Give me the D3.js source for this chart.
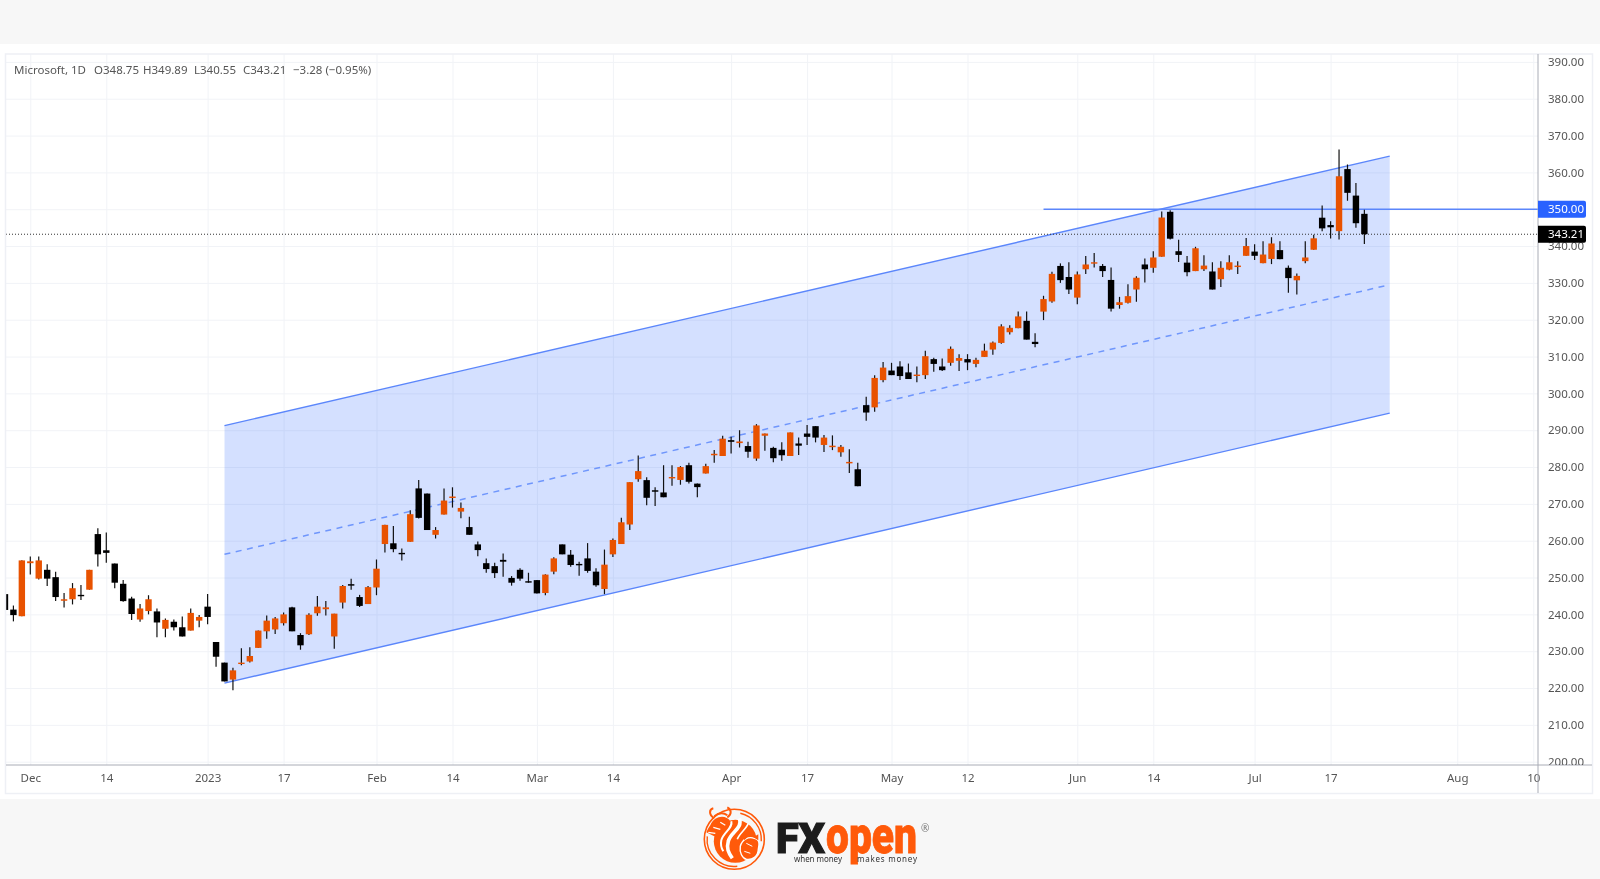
<!DOCTYPE html>
<html><head><meta charset="utf-8">
<style>
html,body{margin:0;padding:0;background:#fff;overflow:hidden}
svg{display:block;filter:blur(0.45px)}
text{font-family:"Noto Sans",sans-serif}
</style>
<script src="https://cdn.jsdelivr.net/npm/d3@7/dist/d3.min.js"></script>
</head><body>
<svg id="c" width="1600" height="879"></svg>
<script>
const opens=[245.5,241.3,239.5,253.9,249.7,252.1,250.1,243.7,244.1,245.3,246.7,261.8,257.4,253.8,248.3,244.3,238.6,240.9,240.8,236.1,238,236.5,235.6,238.3,242.1,232.5,226.9,222.3,226.6,227.2,230.9,235.4,235.9,237.6,241.9,234.4,234.6,240.3,241.4,234,243.2,248.2,244.7,242.8,247.3,
259.1,259.3,256.7,259.7,274.2,272.8,261.6,267.1,271.6,267.9,263.7,259,253.9,253.1,254.8,249.9,252.1,249,249.3,245.8,251.6,259,256.2,253.7,255.2,251.6,246.9,256.3,259.1,264.4,276.7,276.45,273.7,273.1,277.1,
276.5,280.5,275.5,278.25,283.2,283,287.3,286.5,285.7,282.3,288.5,285.2,284.7,283,286.4,289.1,291.1,286,285.4,284,281,279.4,
296.8,296.2,303.6,306.2,307.3,305.7,304.95,304.95,309.3,307.3,308.3,308.85,309.3,308,309.9,311.9,313.7,316.6,317.7,319.7,314,322.2,324.95,
334.6,331.6,326,333.7,335.35,334.6,330.8,324,324.6,328.2,335,334.1,337.1,349.3,338.6,335.5,333.2,333.7,333.1,331,333.6,334.3,337.35,338.5,335.35,336.5,338.9,334.1,330.7,335.9,339,347.7,345.7,344.05,360.9,353.7,348.75];
const highs=[245.5,242.4,254.7,255.7,255.7,253.6,251.6,245.8,248.5,248,252.1,263.4,262.25,253.8,249.3,244.8,242.8,245.2,241.6,238.9,238.6,239.4,241.6,239.8,245.5,232.5,226.9,225.5,230.8,231.1,235.6,239.7,239.3,240.5,242.1,234.9,240.3,245,243.6,240.2,248,249.7,245.3,247.7,254.9,
264.3,264,257.9,268.3,276.5,272.8,263.7,274.2,274.5,270.4,266.5,259.8,255.2,254,256.5,250.4,252.5,251.3,249.3,250.9,255.5,259,257.5,254.3,259.35,252.5,257.6,260.6,266.2,275.9,283.15,277.2,274.5,280.5,280.5,
280.25,281.2,275.5,280.9,284.6,288.5,288.2,290,286.85,291.65,289.1,285.5,286.7,289.4,288,291.4,291.1,288.7,288.6,286,284.8,281.15,
299.07,304.95,308.5,308.3,308.75,308.1,307.3,311.55,309.65,309.5,312.7,310.65,310.65,309.65,313.5,314.1,318.8,318.5,322.2,322.2,316.3,326.5,333,
335.3,335.6,333.1,337.3,338.1,335.1,334.2,326.2,329.6,331.8,336.6,338.6,349.4,349.7,341.7,337.3,339.8,337.5,335.6,335.9,337.5,335.9,342.2,340.5,341.3,342.4,341.3,334.7,332.55,341.3,343.1,351,346.75,366.2,362.15,357.15,349.89];
const lows=[241,238.1,239.5,250.8,249.5,247.7,243.6,241.9,242.7,243.9,246.7,253,254,247.1,243.4,238.5,238,240,233.8,233.8,235.6,234,235.6,236.5,237.3,225.8,221.8,219.4,226.2,226.9,230.9,233.4,234.7,237,235.4,230.4,234.4,239.6,239.7,230.7,241.6,246.7,242,242.8,245.2,
256.8,256.9,254.65,259.7,266,262.9,260.6,267.1,269,266.1,261.6,255.8,251.3,249.9,250.2,247.8,249.1,248.6,245.7,245.2,250.9,256.3,252.9,250.5,251.3,247.5,245.5,255.6,259.1,262.9,276,269.6,269.4,271.8,274.9,
275.2,275.5,271.8,278.25,281.2,283,283.7,285.3,282.5,281.7,284.4,281.3,281.7,283,283.3,286,286.7,284.1,284.6,282.8,278.4,274.8,
292.6,295,303,304.95,303.6,303.9,303.05,303.9,305.85,306.1,307.5,306.1,306.3,307.1,309.9,310.5,313.5,316,317.7,314.6,312.5,319.9,324.6,
330,327,324.2,332.4,334.2,331.6,322.2,323,324.4,324.9,330.1,332.75,337.1,341.8,335.7,331.8,333.2,333.2,328.2,328.9,333.45,332.4,337.35,336.2,335.35,335.1,336.45,327.3,326.85,335.35,339,344.05,342.05,341.8,352.3,345,340.55];
const closes=[241.2,239.8,254.65,254.4,254.65,249.7,244.7,244.1,247.1,245.1,252.1,256.3,256.7,248.6,243.6,240.1,241.6,244.1,237.8,238.5,236.5,234,240.4,239.3,239.3,228.5,221.8,224.8,226.9,228.7,235.6,238.3,238.9,240,235.4,231.6,239.9,242.1,241.9,240.2,247.7,247.8,242.3,247.4,252.4,
264.3,257.7,256.45,267.2,266.2,262.9,262.9,270.9,272,268.9,261.6,257.45,252.3,251.2,254.3,248.6,249.7,248.8,245.7,250.8,255.2,256.3,253.4,253.4,251.8,247.9,253.5,260.2,265,275.9,278.9,271.65,273.3,271.8,277.3,
280,276,274.55,280.25,283.6,287.7,286.85,286.95,284.15,291.3,289.1,282.4,283.2,289.4,285.8,288.2,288,288,285.8,285.5,281.4,274.8,
294.8,304.2,307,304.95,304.7,303.9,305.1,310.1,308,306.3,312.1,309.6,308.4,309.1,311.6,313.8,318.2,317.8,320.9,314.6,313.4,325.6,332.45,
330.75,328.2,332.3,335,335.6,333.2,323,324.75,326.4,331.4,333.7,336.9,347.75,342,337.6,332.9,339.4,334.7,328.2,334.1,335.6,334.7,340,337.35,337.7,340.7,336.45,331.3,331.9,336.9,342.1,344.8,345.1,358.95,354.45,346.2,343.21];

const priceTicks=[390,380,370,360,350,340,330,320,310,300,290,280,270,260,250,240,230,220,210,200];
const timeTickIndex=[3,12,24,33,44,53,63,72,86,95,105,114,127,136,148,157,172,181];
const timeTickLabels=["Dec","14","2023","17","Feb","14","Mar","14","Apr","17","May","12","Jun","14","Jul","17","Aug","10"];

const channelIndex=[26,164];
const channelUpper=[291.25,364.4];
const channelMiddle=[256.3,329.5];
const channelLower=[221.35,294.65];
const levelIndex=[123,188];
const levelPrice=[350,350];
const lastPrice=343.21;

const headerTexts=["Microsoft, 1D","O348.75","H349.89","L340.55","C343.21","−3.28 (−0.95%)"];
const headerX=[14,94,143,194,243,293];

const orange="#e85200", blue="#5b86fb", fillBlue="#2962ff";
const plotL=6, plotR=1538, plotT=54, plotB=765;
const svg=d3.select("#c");

svg.append("rect").attr("width",1600).attr("height",879).attr("fill","#fff");
svg.append("rect").attr("width",1600).attr("height",44).attr("fill","#f7f7f7");
svg.append("rect").attr("y",799).attr("width",1600).attr("height",80).attr("fill","#f7f7f7");

const x=d3.scaleLinear().domain([3,157]).range([30.3,1330.6]);
const y=d3.scaleLinear().domain([390,200]).range([61.9,761.7]);

const defs=svg.append("defs");
defs.append("clipPath").attr("id","plot").append("rect").attr("x",plotL).attr("y",plotT).attr("width",plotR-plotL).attr("height",plotB-plotT);
defs.append("clipPath").attr("id","scale").append("rect").attr("x",plotR).attr("y",plotT).attr("width",60).attr("height",plotB-plotT);

const plot=svg.append("g").attr("clip-path","url(#plot)");
// grid
const gridX=plot.append("g").attr("transform",`translate(0,${plotB})`)
  .call(d3.axisBottom(x).tickValues(timeTickIndex).tickSize(-(plotB-plotT)).tickFormat(""));
gridX.select(".domain").remove();
gridX.selectAll("line").attr("stroke","#f1f3f7").attr("stroke-width",1);
const gridY=plot.append("g").attr("transform",`translate(${plotL},0)`)
  .call(d3.axisRight(y).tickValues(priceTicks).tickSize(plotR-plotL).tickFormat(""));
gridY.select(".domain").remove();
gridY.selectAll("line").attr("stroke","#f1f3f7").attr("stroke-width",1);

// channel
const area=d3.area().x((d,i)=>x(channelIndex[i])).y0((d,i)=>y(channelLower[i])).y1(d=>y(d));
plot.append("path").datum(channelUpper).attr("d",area).attr("fill",fillBlue).attr("fill-opacity",0.2);
const line=d3.line().x((d,i)=>x(channelIndex[i])).y(d=>y(d));
plot.append("path").datum(channelUpper).attr("d",line).attr("fill","none").attr("stroke",blue).attr("stroke-width",1.4);
plot.append("path").datum(channelLower).attr("d",line).attr("fill","none").attr("stroke",blue).attr("stroke-width",1.4);
plot.append("path").datum(channelMiddle).attr("d",line).attr("fill","none").attr("stroke","#6f96fc").attr("stroke-width",1.5).attr("stroke-dasharray","6 5.5");
// horizontal ray
const lineL=d3.line().x((d,i)=>x(levelIndex[i])).y(d=>y(d));
plot.append("path").datum(levelPrice).attr("d",lineL).attr("fill","none").attr("stroke",blue).attr("stroke-width",1.3);
// last price line
plot.append("line").attr("x1",plotL).attr("x2",plotR).attr("y1",y(lastPrice)).attr("y2",y(lastPrice))
  .attr("stroke","#333").attr("stroke-width",1).attr("stroke-dasharray","1 2");

// candles
const candle=plot.selectAll("g.candle").data(d3.range(opens.length)).join("g").attr("class","candle");
const col=i=>closes[i]>=opens[i]?orange:"#000";
candle.append("line").attr("x1",i=>x(i)).attr("x2",i=>x(i)).attr("y1",i=>y(highs[i])).attr("y2",i=>y(lows[i]))
  .attr("stroke","#111").attr("stroke-width",1.2);
candle.append("rect").attr("x",i=>x(i)-3.2).attr("width",6.4)
  .attr("y",i=>y(Math.max(opens[i],closes[i])))
  .attr("height",i=>Math.max(1.4,Math.abs(y(opens[i])-y(closes[i]))))
  .attr("fill",col);

// frame
const frame="#eef0f5";
svg.append("rect").attr("x",5.5).attr("y",54).attr("width",1587).attr("height",739.5).attr("fill","none").attr("stroke",frame).attr("stroke-width",1.5);
svg.append("line").attr("x1",6).attr("x2",1592).attr("y1",plotB).attr("y2",plotB).attr("stroke","#a9acb6").attr("stroke-width",1);

// price axis
const scaleG=svg.append("g").attr("clip-path","url(#scale)");
const py=scaleG.append("g").attr("transform",`translate(${plotR},0)`)
  .call(d3.axisRight(y).tickValues(priceTicks).tickSize(0).tickPadding(10).tickFormat(d=>d3.format(".2f")(d)));
py.select(".domain").remove();
py.selectAll("text").attr("fill","#555").attr("font-size",11.5).style("font-family",'"Noto Sans",sans-serif');

// time axis
const labelFor=d=>timeTickLabels[timeTickIndex.indexOf(d)];
const tx=svg.append("g").attr("transform",`translate(0,${plotB})`)
  .call(d3.axisBottom(x).tickValues(timeTickIndex).tickSize(0).tickPadding(9).tickFormat(labelFor));
tx.select(".domain").remove();
tx.selectAll("text").attr("fill","#555").attr("font-size",11.5).style("font-family",'"Noto Sans",sans-serif');

svg.append("line").attr("x1",plotR).attr("x2",plotR).attr("y1",54).attr("y2",793).attr("stroke","#a9acb6").attr("stroke-width",1);

// price labels
function tag(p,c){
  const yy=y(p);
  svg.append("path").attr("d",`M${plotR} ${yy-8.5}H1584a2 2 0 0 1 2 2V${yy+6.5}a2 2 0 0 1 -2 2H${plotR}Z`).attr("fill",c);
  svg.append("text").attr("x",1548).attr("y",yy+4).attr("fill","#fff").attr("font-size",11.5).text(d3.format(".2f")(p));
}
tag(350,"#2962ff");
tag(lastPrice,"#000");

// header
svg.append("g").selectAll("text").data(headerTexts).join("text")
  .attr("x",(d,i)=>headerX[i]).attr("y",74).attr("fill","#555").attr("font-size",11.5).text(d=>d);

// logo
const L=svg.append("g").attr("transform","translate(734.3,839.3)");
const lo="#ff5a0a";
L.append("circle").attr("r",30).attr("fill","none").attr("stroke",lo).attr("stroke-width",1.6);
L.append("path").attr("d","M-27 -3A27 27 0 0 0 3 27").attr("fill","none").attr("stroke",lo).attr("stroke-width",1.4);
L.append("path").attr("d","M6 -26A27 27 0 0 1 27 2").attr("fill","none").attr("stroke",lo).attr("stroke-width",1.4);
// body disc
L.append("circle").attr("r",21.5).attr("cx",1).attr("cy",2).attr("fill",lo);
// bull head and horns
L.append("path").attr("fill",lo).attr("d","M-24 -14C-20 -24 -8 -25 -4 -18C-2 -12 -6 -6 -12 -4L-20 -3L-28 -7L-26 -11Z");
L.append("path").attr("fill","none").attr("stroke",lo).attr("stroke-width",2).attr("d","M-20 -21C-26 -25 -25 -30 -21 -31M-7 -22C-2 -25 -3 -30 -7 -32M-20 -23C-15 -27 -11 -27 -7 -24");
L.append("path").attr("fill","none").attr("stroke","#fff").attr("stroke-width",1.2).attr("d","M-21 -12L-14 -10M-26 -7L-19 -6M-14 -17L-9 -14");
// white S stripes
L.append("path").attr("fill","none").attr("stroke","#fff").attr("stroke-width",3.6).attr("d","M5 -21C9 -11 -4 -7 -6 2C-8 9 -6 13 -2 19");
L.append("path").attr("fill","none").attr("stroke","#fff").attr("stroke-width",2).attr("d","M-3 -18C-1 -11 -11 -7 -13 1C-14 6 -13 9 -11 12");
L.append("path").attr("fill","none").attr("stroke","#fff").attr("stroke-width",1.6).attr("d","M14 -16C12 -10 5 -6 3 0");
// bear head
L.append("path").attr("fill",lo).attr("stroke","#fff").attr("stroke-width",1.4).attr("d","M6 7C8 0 14 -3 20 -1C26 0 25 6 24 10C24 17 18 21 12 20C8 19 5 13 6 7Z");
L.append("path").attr("fill","none").attr("stroke","#fff").attr("stroke-width",1).attr("d","M12 4L18 7M10 12L16 14");
L.append("path").attr("fill",lo).attr("d","M10 1L9 -5L14 -3ZM19 -2L24 -5L24 1Z");
const ink="#1c1c1c";
svg.append("text").attr("x",776).attr("y",853).attr("font-size",42).attr("font-weight",900).style("font-family","Roboto,sans-serif")
  .attr("textLength",49).attr("lengthAdjust","spacingAndGlyphs").attr("fill",ink).attr("stroke",ink).attr("stroke-width",1.2).text("FX");
svg.append("text").attr("x",826).attr("y",853).attr("font-size",52).attr("font-weight",900).style("font-family","Roboto,sans-serif")
  .attr("textLength",91).attr("lengthAdjust","spacingAndGlyphs").attr("fill",lo).attr("stroke",lo).attr("stroke-width",0.8).text("open");
svg.append("text").attr("x",794).attr("y",862).attr("font-size",8).attr("textLength",48).attr("fill","#333").text("when money");
svg.append("text").attr("x",857).attr("y",862).attr("font-size",8).attr("textLength",60).attr("fill","#333").text("makes money");
svg.append("text").attr("x",921).attr("y",832).attr("font-size",10).attr("fill","#777").text("®");
</script>
</body></html>
